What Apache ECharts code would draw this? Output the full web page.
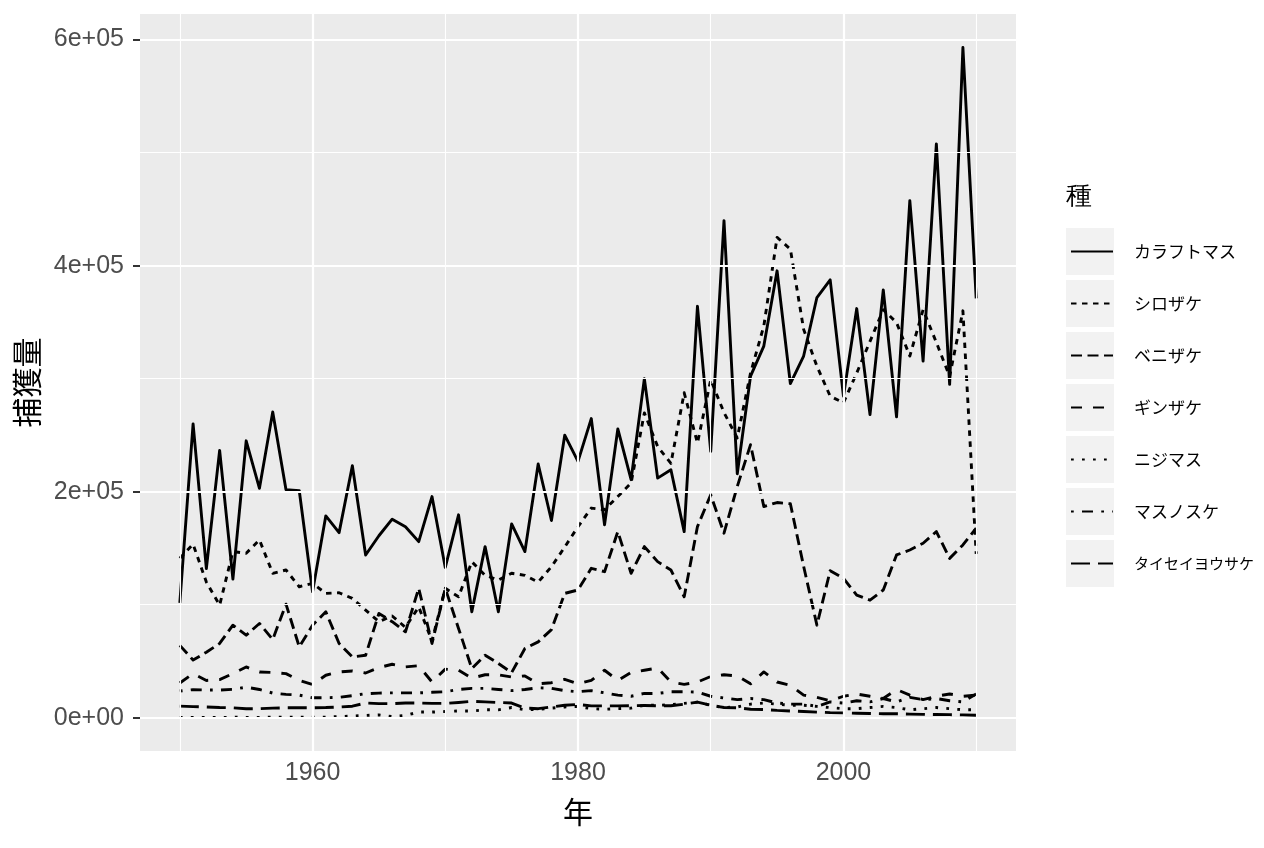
<!DOCTYPE html>
<html>
<head>
<meta charset="utf-8">
<script src="https://cdn.jsdelivr.net/npm/echarts@6/dist/echarts.min.js"></script>
<style>
html,body{margin:0;padding:0;background:#fff;}
#c{width:1264px;height:848px;}
</style>
</head>
<body>
<div id="c"></div>
<script>
const years = [1950,1951,1952,1953,1954,1955,1956,1957,1958,1959,
1960,1961,1962,1963,1964,1965,1966,1967,1968,1969,
1970,1971,1972,1973,1974,1975,1976,1977,1978,1979,
1980,1981,1982,1983,1984,1985,1986,1987,1988,1989,
1990,1991,1992,1993,1994,1995,1996,1997,1998,1999,
2000,2001,2002,2003,2004,2005,2006,2007,2008,2009,2010];

const speciesNames = ['カラフトマス','シロザケ','ベニザケ','ギンザケ','ニジマス','マスノスケ','タイセイヨウサケ'];

const karafutomasu = [101700,260000,132000,236500,122700,245000,203000,270600,201700,200800,
111500,178600,163800,223000,144000,161000,175700,169000,155800,195700,
133000,179500,93700,151400,93700,171500,147000,224500,174500,250000,
226800,264700,170600,255500,210600,300000,212000,219400,164700,364000,
235700,439800,215900,302200,328800,395400,295700,320000,371800,387400,
284500,362000,268200,378500,266200,457500,315500,507700,294900,593000,
371000];

const shirozake = [141000,153500,120000,99600,147000,145500,157300,127800,130700,115900,
118900,110000,110600,105600,95200,85000,90000,80000,98000,68000,
114500,107000,138000,126000,121800,127800,126000,120000,133600,151000,
169000,185500,184000,195700,207600,269700,240000,225000,287500,243000,
299000,270000,247500,305000,346600,425000,414600,343600,311000,284500,
278600,305000,333000,361000,349600,320000,361000,332000,302000,360000,
145000];

const benizake = [64000,51000,58000,65700,81900,73000,83400,69200,100500,62700,
81900,93700,65700,53800,55300,92300,85000,76000,114500,65700,
114500,79000,43500,55300,48000,40000,61200,67100,78000,110000,
113000,132200,129200,164700,127800,151400,138100,130700,107000,169100,
197200,163300,204600,241600,186900,190400,189300,134000,81900,130100,
123300,108500,104000,113000,144000,148400,154400,164700,141000,152900,
167700];

const ginzake = [30700,39000,33000,33700,39000,44900,40500,40000,39000,33000,
29300,37600,40500,41400,39600,44400,47300,45000,46000,31600,
43000,42000,35000,38000,38000,36000,37000,30000,31000,34000,
30000,33000,42000,33000,40000,42000,44000,31600,29500,31600,
36500,38000,37000,30000,40500,31600,28700,20000,18000,15000,
19000,21000,19000,17000,25000,20000,16000,19000,21000,19000,
20000];

const nijimasu = [300,300,200,300,400,300,300,400,500,400,
500,500,1000,1500,2000,2500,1000,2000,5000,5000,
5500,6000,6000,7000,7000,9000,7000,7500,8500,9500,
10000,8000,7500,8000,8500,11000,11000,11500,12700,13800,
11000,9000,9500,12000,13000,12000,11000,11000,10000,9000,
8000,8000,9000,10000,9000,7000,8000,9000,8000,7000,
7000];

const masunosuke = [23600,24900,24500,24500,25100,27000,25000,21800,20700,20000,
17700,17700,18000,19500,21300,21800,22000,22000,22000,22500,
23000,25000,26000,26000,25000,24000,25000,26500,26000,24000,
23000,24000,22000,20000,19000,21500,21500,23000,23000,22700,
19000,17500,16000,17000,16000,13000,12000,12000,10000,14000,
13000,15000,14000,17000,14000,18000,16000,17000,15000,14000,
21000];

const taiseiyousake = [10300,9800,9500,9000,8800,8000,8000,8500,8800,8800,
8800,9000,9500,10200,13000,12500,12400,13000,13000,12700,
12700,13500,14500,14000,13500,13000,8500,8000,9500,11000,
11800,10500,10500,10500,10600,10800,10600,10600,12000,13800,
11000,9000,8800,7500,7300,6500,6000,5500,5000,4500,
4300,4000,3800,3500,3500,3200,3000,2800,2700,2500,
2200];

const xTickLabels = [1960, 1980, 2000];
const xMinorGrid = [1950, 1970, 1990, 2010];
const yTickLabels = [0, 200000, 400000, 600000];
const yMinorGrid = [100000, 300000, 500000];

const seriesValues = [karafutomasu, shirozake, benizake, ginzake, nijimasu, masunosuke, taiseiyousake];
const dashTypes = ['solid', [5.5,5.5], [11,5.5], [11,11], [2.75,8.25], [2.75,8.25,11,8.25], [19,8]];

// ggplot-style 5% expansion
const allVals = seriesValues.flat();
const yMaxData = Math.max(...allVals), yMinData = Math.min(...allVals);
const yPad = (yMaxData - yMinData) * 0.05;
const xPad = (years[years.length-1] - years[0]) * 0.05;

const chart = echarts.init(document.getElementById('c'), null, {renderer:'canvas'});

const gridLines = [];
xTickLabels.forEach(v => gridLines.push({xAxis: v, lineStyle:{width:2.2}}));
xMinorGrid.forEach(v => gridLines.push({xAxis: v, lineStyle:{width:1.1}}));
yTickLabels.forEach(v => gridLines.push({yAxis: v, lineStyle:{width:2.2}}));
yMinorGrid.forEach(v => gridLines.push({yAxis: v, lineStyle:{width:1.1}}));

const series = [{
  name: '__grid',
  type: 'line',
  data: [],
  z: 1,
  silent: true,
  markLine: {
    silent: true,
    symbol: ['none','none'],
    label: {show:false},
    animation: false,
    lineStyle: {color:'#ffffff', type:'solid'},
    emphasis: {disabled: true},
    data: gridLines
  }
}];

speciesNames.forEach((name, i) => {
  series.push({
    name: name,
    type: 'line',
    data: years.map((y, j) => [y, seriesValues[i][j]]),
    showSymbol: false,
    symbol: 'none',
    z: 3,
    lineStyle: {color:'#000000', width:2.9, type: dashTypes[i], cap:'butt', join:'round'},
    itemStyle: {color:'#000000'},
    emphasis: {disabled:true},
    animation: false
  });
});

const legendTop = 228, legendPitch = 52, keyLeft = 1066;
const keyBoxes = speciesNames.map((n, i) => ({
  type: 'rect',
  left: keyLeft,
  top: legendTop + legendPitch * i,
  shape: {width: 48, height: 47},
  style: {fill: '#F2F2F2'},
  z: -10,
  silent: true
}));

const legendData = speciesNames.map(n => n.length > 6
  ? {name: n, textStyle: {fontSize: 15}}
  : {name: n});

chart.setOption({
  animation: false,
  backgroundColor: '#ffffff',
  grid: {left:140, top:14, width:876, height:737, show:true, backgroundColor:'#EBEBEB', borderWidth:0},
  xAxis: {
    type: 'value',
    min: years[0] - xPad,
    max: years[years.length-1] + xPad,
    name: '年',
    nameLocation: 'middle',
    nameGap: 46,
    nameTextStyle: {fontSize: 30, color:'#000', fontFamily:'"Noto Sans CJK JP", sans-serif'},
    axisLine: {show:false},
    axisTick: {show:true, length:7, lineStyle:{color:'#333333', width:2}, customValues: xTickLabels},
    axisLabel: {customValues: xTickLabels, color:'#4D4D4D', fontSize:25, margin:10, fontFamily:'"Liberation Sans", Arial, sans-serif', formatter: v => String(v)},
    splitLine: {show:false}
  },
  yAxis: {
    type: 'value',
    min: yMinData - yPad,
    max: yMaxData + yPad,
    name: '捕獲量',
    nameLocation: 'middle',
    nameGap: 98,
    nameRotate: 90,
    nameTextStyle: {fontSize: 30, color:'#000', fontFamily:'"Noto Sans CJK JP", sans-serif'},
    axisLine: {show:false},
    axisTick: {show:true, length:7, lineStyle:{color:'#333333', width:2}, customValues: yTickLabels},
    axisLabel: {customValues: yTickLabels, color:'#4D4D4D', fontSize:25, margin:16, fontFamily:'"Liberation Sans", Arial, sans-serif',
      formatter: v => v === 0 ? '0e+00' : (v/100000) + 'e+05'},
    splitLine: {show:false}
  },
  legend: {
    show: true,
    data: legendData,
    orient: 'vertical',
    left: 1070,
    top: legendTop + 47/2 - 10,
    padding: 0,
    itemWidth: 42,
    itemHeight: 20,
    itemGap: legendPitch - 20,
    selectedMode: false,
    itemStyle: {opacity: 0, borderWidth: 0},
    textStyle: {fontSize: 17, lineHeight: 20, height: 20, color:'#000', fontFamily:'"Noto Sans CJK JP", sans-serif', padding:[0,0,0,16]}
  },
  graphic: [
    ...keyBoxes,
    {type:'text', left: 1066, top: 184, style:{text:'種', fontSize:26, fill:'#000', font:'26px "Noto Sans CJK JP", sans-serif'}, silent:true}
  ],
  series: series
});
</script>
</body>
</html>
